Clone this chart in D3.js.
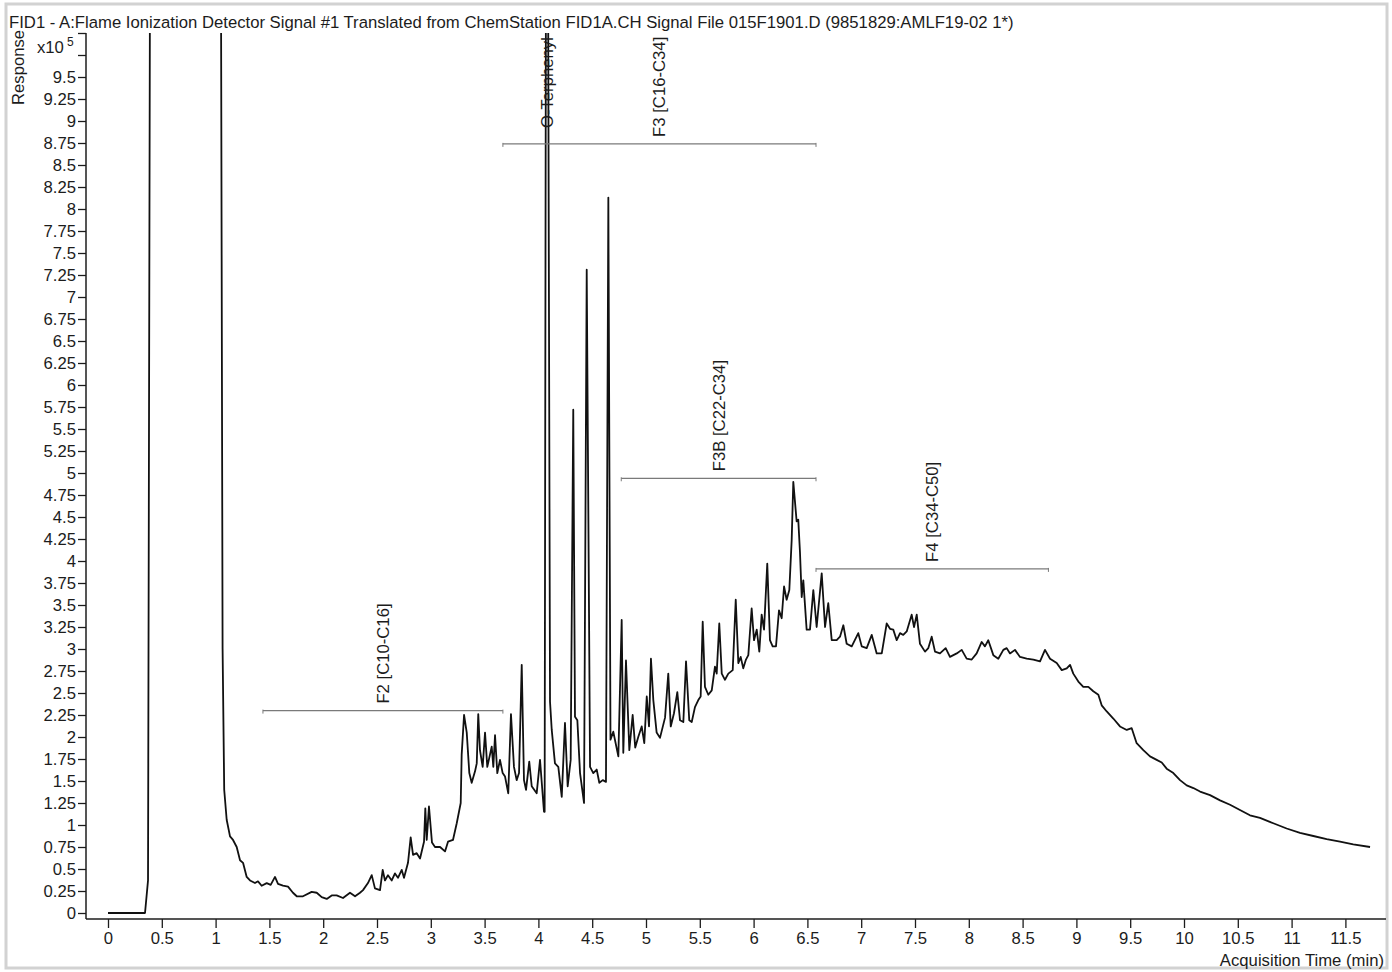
<!DOCTYPE html>
<html>
<head>
<meta charset="utf-8">
<script src="https://cdn.jsdelivr.net/npm/d3@7"></script>
<style>
    body { margin: 0; background: #fff; }
    svg { display: block; font-family: "Liberation Sans", Arial, sans-serif; }
</style>
</head>
<body>
<svg></svg>
<script>

const title = "FID1 - A:Flame Ionization Detector Signal #1 Translated from ChemStation FID1A.CH Signal File 015F1901.D (9851829:AMLF19-02 1*)"

const timeTicks = [0, 0.5, 1, 1.5, 2, 2.5, 3, 3.5, 4, 4.5, 5, 5.5, 6, 6.5, 7, 7.5, 8, 8.5, 9, 9.5, 10, 10.5, 11, 11.5]

const responseTicks = [0, 0.25, 0.5, 0.75, 1, 1.25, 1.5, 1.75, 2, 2.25, 2.5, 2.75, 3, 3.25, 3.5, 3.75,
    4, 4.25, 4.5, 4.75, 5, 5.25, 5.5, 5.75, 6, 6.25, 6.5, 6.75, 7, 7.25, 7.5, 7.75,
    8, 8.25, 8.5, 8.75, 9, 9.25, 9.5, 9.75, 10]

// [acquisition time (min), response (x10^5)]
const signal = [
    [0.000, 0.00], [0.344, 0.00], [0.372, 0.37], [0.390, 10.60], [1.050, 10.60], [1.065, 3.00],
    [1.080, 1.40], [1.103, 1.06], [1.134, 0.87], [1.162, 0.83], [1.196, 0.75], [1.227, 0.60],
    [1.255, 0.57], [1.289, 0.41], [1.320, 0.37], [1.366, 0.34], [1.394, 0.36], [1.428, 0.31],
    [1.475, 0.34], [1.512, 0.32], [1.552, 0.41], [1.580, 0.33], [1.626, 0.31], [1.673, 0.30],
    [1.719, 0.23], [1.754, 0.19], [1.812, 0.19], [1.893, 0.24], [1.940, 0.23], [1.986, 0.18],
    [2.033, 0.16], [2.079, 0.20], [2.125, 0.20], [2.184, 0.17], [2.249, 0.23], [2.296, 0.19],
    [2.342, 0.23], [2.370, 0.26], [2.416, 0.34], [2.451, 0.43], [2.481, 0.28], [2.528, 0.26],
    [2.553, 0.49], [2.574, 0.37], [2.602, 0.43], [2.637, 0.37], [2.667, 0.45], [2.695, 0.40],
    [2.730, 0.49], [2.751, 0.40], [2.788, 0.57], [2.813, 0.86], [2.835, 0.66], [2.869, 0.68],
    [2.900, 0.62], [2.937, 0.81], [2.949, 1.19], [2.962, 0.83], [2.983, 1.21], [3.011, 0.80],
    [3.039, 0.75], [3.086, 0.75], [3.132, 0.70], [3.160, 0.81], [3.206, 0.83], [3.241, 1.02],
    [3.278, 1.25], [3.287, 1.80], [3.309, 2.25], [3.334, 2.05], [3.358, 1.59], [3.380, 1.48],
    [3.411, 1.61], [3.427, 1.70], [3.441, 2.26], [3.457, 1.85], [3.482, 1.66], [3.504, 2.05],
    [3.525, 1.66], [3.550, 1.80], [3.566, 1.89], [3.581, 1.66], [3.597, 2.02], [3.618, 1.59],
    [3.643, 1.74], [3.668, 1.59], [3.690, 1.55], [3.720, 1.36], [3.745, 2.26], [3.773, 1.66],
    [3.798, 1.51], [3.820, 1.59], [3.845, 2.82], [3.866, 1.51], [3.885, 1.40], [3.915, 1.72],
    [3.938, 1.44], [3.984, 1.36], [4.015, 1.74], [4.052, 1.15], [4.058, 1.15], [4.070, 10.60],
    [4.090, 10.60], [4.108, 2.40], [4.124, 2.08], [4.154, 1.70], [4.185, 1.66], [4.217, 1.32],
    [4.247, 2.16], [4.272, 1.44], [4.300, 1.74], [4.324, 5.72], [4.340, 2.23], [4.362, 2.19],
    [4.387, 1.59], [4.424, 1.25], [4.449, 7.31], [4.480, 1.66], [4.510, 1.59], [4.542, 1.63],
    [4.566, 1.48], [4.598, 1.51], [4.628, 1.49], [4.650, 8.13], [4.670, 1.97], [4.696, 2.06],
    [4.743, 1.78], [4.774, 3.33], [4.789, 1.82], [4.814, 2.87], [4.845, 1.85], [4.876, 2.25],
    [4.900, 1.88], [4.928, 2.00], [4.960, 2.12], [4.984, 1.93], [5.007, 2.46], [5.028, 2.12],
    [5.046, 2.89], [5.068, 2.42], [5.099, 2.05], [5.130, 1.99], [5.177, 2.22], [5.207, 2.72],
    [5.230, 2.12], [5.260, 2.27], [5.291, 2.51], [5.316, 2.19], [5.347, 2.17], [5.372, 2.86],
    [5.402, 2.19], [5.425, 2.17], [5.455, 2.34], [5.486, 2.42], [5.508, 2.46], [5.527, 3.31],
    [5.548, 2.57], [5.579, 2.48], [5.611, 2.53], [5.641, 2.80], [5.657, 2.72], [5.681, 3.29],
    [5.704, 2.72], [5.734, 2.65], [5.765, 2.72], [5.806, 2.76], [5.834, 3.56], [5.858, 2.84],
    [5.880, 2.91], [5.904, 2.78], [5.929, 2.88], [5.951, 2.93], [5.982, 3.46], [6.004, 3.10],
    [6.029, 3.22], [6.053, 2.97], [6.075, 3.39], [6.097, 3.22], [6.127, 3.97], [6.152, 3.10],
    [6.177, 3.03], [6.208, 3.03], [6.236, 3.44], [6.261, 3.35], [6.283, 3.71], [6.307, 3.56],
    [6.332, 3.67], [6.354, 4.24], [6.369, 4.90], [6.400, 4.45], [6.415, 4.47], [6.431, 4.10],
    [6.447, 3.59], [6.462, 3.78], [6.493, 3.22], [6.524, 3.22], [6.555, 3.67], [6.586, 3.25],
    [6.633, 3.86], [6.664, 3.25], [6.694, 3.52], [6.726, 3.10], [6.772, 3.10], [6.803, 3.14],
    [6.834, 3.27], [6.865, 3.06], [6.912, 3.03], [6.973, 3.18], [7.005, 3.03], [7.051, 3.01],
    [7.098, 3.16], [7.144, 2.95], [7.191, 2.95], [7.237, 3.29], [7.268, 3.23], [7.298, 3.22],
    [7.330, 3.10], [7.361, 3.18], [7.391, 3.16], [7.423, 3.20], [7.469, 3.39], [7.491, 3.25],
    [7.516, 3.39], [7.546, 3.06], [7.593, 2.97], [7.624, 3.01], [7.655, 3.14], [7.686, 2.97],
    [7.732, 2.95], [7.785, 3.01], [7.825, 2.91], [7.888, 2.95], [7.934, 2.99], [7.980, 2.89],
    [8.027, 2.88], [8.073, 2.95], [8.120, 3.08], [8.150, 3.03], [8.181, 3.10], [8.228, 2.93],
    [8.274, 2.89], [8.321, 2.99], [8.352, 3.01], [8.383, 2.95], [8.429, 2.99], [8.476, 2.91],
    [8.538, 2.89], [8.600, 2.88], [8.662, 2.86], [8.708, 2.99], [8.755, 2.89], [8.817, 2.84],
    [8.864, 2.76], [8.910, 2.78], [8.941, 2.82], [8.971, 2.72], [9.018, 2.63], [9.064, 2.57],
    [9.111, 2.57], [9.157, 2.52], [9.204, 2.48], [9.235, 2.36], [9.282, 2.29], [9.343, 2.21],
    [9.405, 2.12], [9.468, 2.08], [9.514, 2.10], [9.560, 1.93], [9.622, 1.85], [9.684, 1.78],
    [9.746, 1.74], [9.793, 1.71], [9.839, 1.64], [9.901, 1.59], [9.963, 1.51], [10.025, 1.45],
    [10.087, 1.42], [10.149, 1.38], [10.242, 1.34], [10.335, 1.28], [10.428, 1.23], [10.520, 1.17],
    [10.613, 1.11], [10.706, 1.08], [10.830, 1.02], [10.954, 0.96], [11.078, 0.91], [11.202, 0.875],
    [11.326, 0.84], [11.450, 0.81], [11.573, 0.78], [11.729, 0.75]
]

// integration windows drawn as brackets
const fractionNames = ["F2 [C10-C16]", "F3 [C16-C34]", "F3B [C22-C34]", "F4 [C34-C50]"]
const fractionStart = [1.44, 3.67, 4.77, 6.58]
const fractionEnd = [3.67, 6.58, 6.58, 8.74]
const fractionLevel = [2.30, 8.74, 4.94, 3.91]

const peakName = "O-Terphenyl"
const peakTime = 4.075
const peakLabelLevel = 8.92

const svg = d3.select("svg")
    .attr("width", 1392)
    .attr("height", 972)

const textColor = "#1c1c1c"
const fontSize = "16.7px"

// window frame
svg.append("rect")
    .attr("x", 6)
    .attr("y", 4)
    .attr("width", 1381)
    .attr("height", 964)
    .attr("fill", "#fff")
    .attr("stroke", "#d2d2d2")
    .attr("stroke-width", 3)

const x = d3.scaleLinear()
    .domain([0, 11.5])
    .range([108, 1345.4])

const y = d3.scaleLinear()
    .domain([0, 10])
    .range([913, 33])

const axisLeftX = 86
const axisBottomY = 919

svg.append("text")
    .attr("x", 9)
    .attr("y", 28)
    .attr("fill", textColor)
    .style("font-size", fontSize)
    .text(title)

// y axis
const yAxis = svg.append("g")
    .attr("transform", `translate(${axisLeftX}, 0)`)
    .call(d3.axisLeft(y)
        .tickValues(responseTicks)
        .tickSize(8)
        .tickPadding(2)
        .tickFormat(d => d >= 9.75 ? "" : String(d)))

yAxis.select(".domain").remove()
yAxis.selectAll("line").attr("stroke", textColor).attr("stroke-width", 1.3)
yAxis.selectAll("text")
    .attr("fill", textColor)
    .style("font-size", fontSize)
    .style("font-family", "'Liberation Sans', Arial, sans-serif")

svg.append("line")
    .attr("x1", axisLeftX)
    .attr("x2", axisLeftX)
    .attr("y1", y(10))
    .attr("y2", axisBottomY)
    .attr("stroke", textColor)
    .attr("stroke-width", 1.5)

const unitLabel = svg.append("text")
    .attr("x", 37)
    .attr("y", 53)
    .attr("fill", textColor)
    .style("font-size", fontSize)

unitLabel.append("tspan").text("x10")
unitLabel.append("tspan")
    .attr("dx", 3)
    .attr("dy", -7)
    .style("font-size", "12px")
    .text("5")

svg.append("text")
    .attr("transform", "translate(24, 105) rotate(-90)")
    .attr("fill", textColor)
    .style("font-size", fontSize)
    .text("Response")

// x axis
const xAxis = svg.append("g")
    .attr("transform", `translate(0, ${axisBottomY})`)
    .call(d3.axisBottom(x)
        .tickValues(timeTicks)
        .tickSize(9)
        .tickPadding(4)
        .tickFormat(d => String(d)))

xAxis.select(".domain").remove()
xAxis.selectAll("line").attr("stroke", textColor).attr("stroke-width", 1.3)
xAxis.selectAll("text")
    .attr("fill", textColor)
    .style("font-size", fontSize)
    .style("font-family", "'Liberation Sans', Arial, sans-serif")

svg.append("line")
    .attr("x1", axisLeftX)
    .attr("x2", 1386)
    .attr("y1", axisBottomY)
    .attr("y2", axisBottomY)
    .attr("stroke", textColor)
    .attr("stroke-width", 1.5)

svg.append("text")
    .attr("x", 1384)
    .attr("y", 966)
    .attr("text-anchor", "end")
    .attr("fill", textColor)
    .style("font-size", fontSize)
    .text("Acquisition Time (min)")

// trace
svg.append("clipPath")
    .attr("id", "plot-clip")
    .append("rect")
    .attr("x", axisLeftX)
    .attr("y", y(10))
    .attr("width", 1386 - axisLeftX)
    .attr("height", axisBottomY - y(10))

const lineGenerator = d3.line()
    .x(d => x(d[0]))
    .y(d => y(d[1]))

svg.append("path")
    .datum(signal)
    .attr("clip-path", "url(#plot-clip)")
    .attr("d", lineGenerator)
    .attr("fill", "none")
    .attr("stroke", "#111")
    .attr("stroke-width", 1.8)
    .attr("stroke-linejoin", "round")

// fraction brackets
const brackets = svg.append("g")

fractionNames.forEach((name, i) => {
    const x1 = x(fractionStart[i])
    const x2 = x(fractionEnd[i])
    const yy = y(fractionLevel[i])

    brackets.append("line")
        .attr("x1", x1).attr("x2", x2)
        .attr("y1", yy).attr("y2", yy)
        .attr("stroke", "#7a7a7a")
        .attr("stroke-width", 1.2)

    ;[x1, x2].forEach(xx => {
        brackets.append("line")
            .attr("x1", xx).attr("x2", xx)
            .attr("y1", yy - 1).attr("y2", yy + 3)
            .attr("stroke", "#7a7a7a")
            .attr("stroke-width", 1)
    })

    brackets.append("text")
        .attr("transform", `translate(${(x1 + x2) / 2 + 6}, ${yy - 7}) rotate(-90)`)
        .attr("fill", textColor)
        .style("font-size", fontSize)
        .text(name)
})

svg.append("text")
    .attr("transform", `translate(${x(peakTime) + 7}, ${y(peakLabelLevel)}) rotate(-90)`)
    .attr("fill", textColor)
    .style("font-size", fontSize)
    .text(peakName)

</script>
</body>
</html>
